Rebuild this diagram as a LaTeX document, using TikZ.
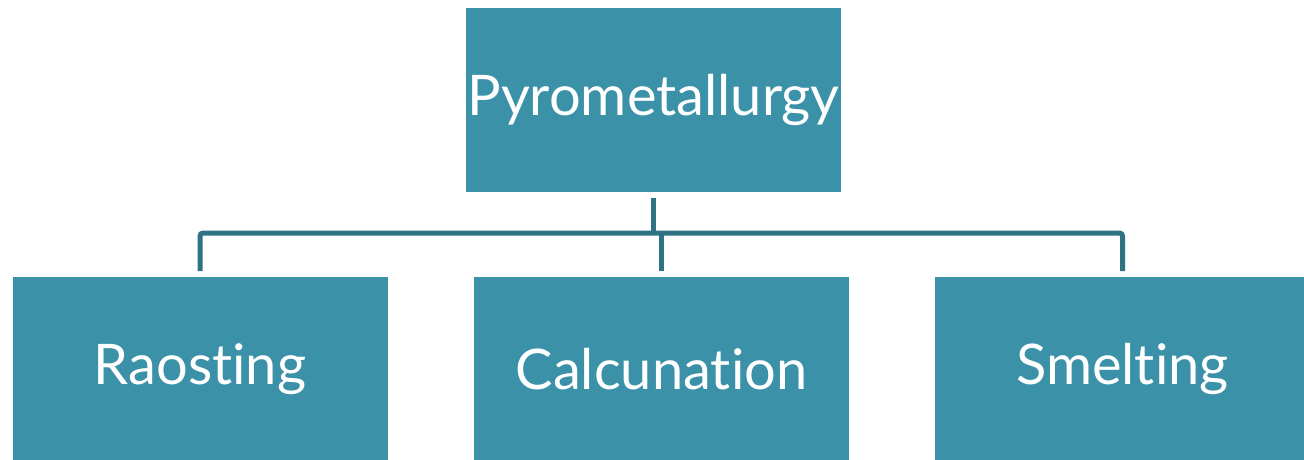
\documentclass[tikz,border=0pt]{standalone}
\usepackage{fontspec}
\setmainfont[Ligatures=NoCommon]{Lato}
\usetikzlibrary{positioning}
\definecolor{boxteal}{HTML}{3A91A8}
\definecolor{lineteal}{HTML}{2E7283}

\begin{document}
\begin{tikzpicture}[x=1pt,y=-1pt,
    stage/.style={fill=boxteal,text=white,inner sep=0pt,outer sep=6pt,
      minimum width=375pt,font=\fontsize{56}{68}\selectfont},
    link/.style={draw=lineteal,line width=5pt,rounded corners=3pt}]
  \useasboundingbox (0,0) rectangle (1304,459);

  \node[stage,minimum height=184pt] (pyro) at (653.5,100) {Pyrometallurgy};
  \node[stage,minimum height=184pt] (raost) at (200,369) {Raosting};
  \node[stage,minimum height=184pt] (calc) at (661.5,369) {Calcunation};
  \node[stage,minimum height=184pt] (smelt) at (1122.5,369) {Smelting};

  \coordinate (bus) at (0,233);
  \draw[link] (pyro.south) -- (pyro.south |- bus);
  \draw[link] (raost.north) |- (smelt.north |- bus) -- (smelt.north);
  \draw[link] (calc.north |- bus) -- (calc.north);
\end{tikzpicture}
\end{document}
